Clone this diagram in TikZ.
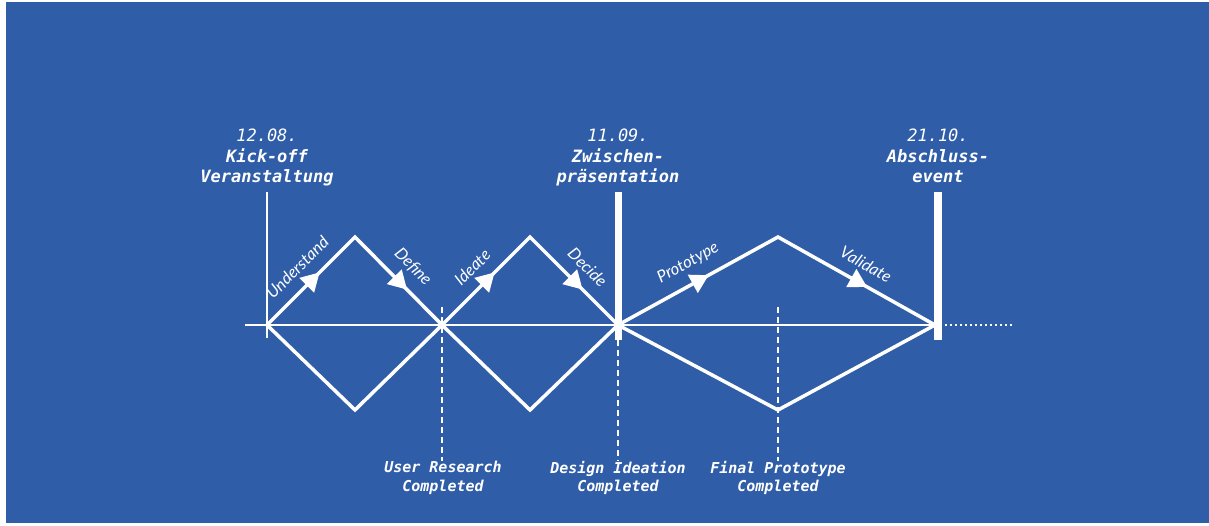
\documentclass[tikz,border=0pt]{standalone}
\usepackage{fontspec}
\usetikzlibrary{decorations.markings}

\newfontfamily\datefont{DejaVu Sans Mono}
\newfontfamily\phasefont{Lato}
\definecolor{bgblue}{HTML}{2F5DA7}

\tikzset{
  axisline/.style={white, line width=1.8pt},
  loopline/.style={white, line width=3.5pt, line join=miter},
  phasearrow/.style={decorate, decoration={markings,
      mark=at position .5 with {\fill[white] (12pt,0) -- (-6pt,10.5pt) -- (-6pt,-10.5pt) -- cycle;}}},
  phaselabel/.style={sloped, above=13pt, pos=.5, inner sep=0pt, text=white,
      font=\phasefont\itshape\fontsize{16.5}{18}\selectfont},
  eventlabel/.style={anchor=south, align=center, inner sep=0pt, text=white, text depth=4pt,
      font=\datefont\fontsize{17}{20.5}\selectfont},
  donelabel/.style={anchor=north, align=center, inner sep=0pt, text=white,
      font=\datefont\bfseries\itshape\fontsize{15}{18.5}\selectfont},
  thinbar/.style={white, line width=1.8pt},
  thickbar/.style={white, line width=7pt},
  donebar/.style={white, line width=1.8pt, dash pattern=on 6pt off 4pt}
}

\begin{document}
\begin{tikzpicture}[x=1pt,y=-1pt]

  % background
  \fill[white] (0,0) rectangle (1209,526);
  \fill[bgblue] (6,2) rectangle (1209,523);

  % time axis
  \coordinate (a0) at (245,325);
  \coordinate (k)  at (267,325);
  \coordinate (u)  at (442,325);
  \coordinate (z)  at (618,325);
  \coordinate (e)  at (935,325);
  \coordinate (a1) at (1012,325);

  % corners of the three loops
  \coordinate (t1) at (355,237);
  \coordinate (b1) at (355,410);
  \coordinate (t2) at (530,237);
  \coordinate (b2) at (530,410);
  \coordinate (t3) at (778,237);
  \coordinate (b3) at (778,410);

  \draw[axisline] (a0) -- (e);
  \draw[axisline, dash pattern=on 1.5pt off 3.5pt] (e) -- (a1);

  \draw[loopline] (k) -- (t1) -- (u) -- (b1) -- cycle;
  \draw[loopline] (u) -- (t2) -- (z) -- (b2) -- cycle;
  \draw[loopline] (z) -- (t3) -- (e) -- (b3) -- cycle;

  \path[phasearrow] (k)  -- node[phaselabel] {Understand} (t1);
  \path[phasearrow] (t1) -- node[phaselabel] {Define} (u);
  \path[phasearrow] (u)  -- node[phaselabel] {Ideate} (t2);
  \path[phasearrow] (t2) -- node[phaselabel] {Decide} (z);
  \path[phasearrow] (z)  -- node[phaselabel] {Prototype} (t3);
  \path[phasearrow] (t3) -- node[phaselabel] {Validate} (e);

  % events on top
  \node[eventlabel] (kickoff) at (267,187)
    {{\itshape 12.08.}\\{\bfseries\itshape Kick-off}\\{\bfseries\itshape Veranstaltung}};
  \node[eventlabel] (zwischen) at (618,187)
    {{\itshape 11.09.}\\{\bfseries\itshape Zwischen-}\\{\bfseries\itshape präsentation}};
  \node[eventlabel] (abschluss) at (938,187)
    {{\itshape 21.10.}\\{\bfseries\itshape Abschluss-}\\{\bfseries\itshape event}};

  \coordinate (ktop) at (267,192);
  \coordinate (kbot) at (267,338);
  \coordinate (ztop) at (618,192);
  \coordinate (zbot) at (618,340);
  \coordinate (etop) at (938,192);
  \coordinate (ebot) at (938,340);

  \draw[thinbar] (ktop) -- (kbot);
  \draw[thickbar] (ztop) -- (zbot);
  \draw[thickbar, line width=8.5pt] (etop) -- (ebot);

  % milestones below
  \node[donelabel] (research) at (443,461) {User Research\\Completed};
  \node[donelabel] (ideation) at (618,461) {Design Ideation\\Completed};
  \node[donelabel] (final)    at (778,461) {Final Prototype\\Completed};

  \coordinate (rtop) at (442,307);
  \coordinate (ftop) at (778,307);

  \draw[donebar] (rtop) -- (rtop |- research.north);
  \draw[donebar] (zbot) -- (zbot |- ideation.north);
  \draw[donebar] (ftop) -- (ftop |- final.north);

\end{tikzpicture}
\end{document}
